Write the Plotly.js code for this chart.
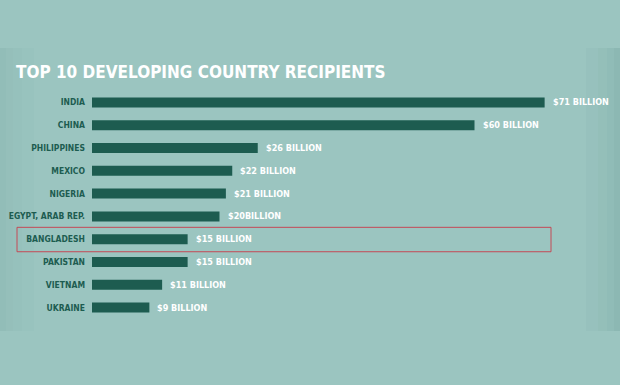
<!DOCTYPE html>
<html>
<head>
<meta charset="utf-8">
<script src="https://cdn.plot.ly/plotly-3.0.1.min.js"></script>
<style>html,body{margin:0;padding:0;background:#9bc5c0;}#chart{width:620px;height:385px;}</style>
</head>
<body>
<div id="chart"></div>
<script>
const countries = ["INDIA","CHINA","PHILIPPINES","MEXICO","NIGERIA","EGYPT, ARAB REP.","BANGLADESH","PAKISTAN","VIETNAM","UKRAINE"];
const values = [71, 60, 26, 22, 21, 20, 15, 15, 11, 9];
const valueLabels = ["$71 BILLION","$60 BILLION","$26 BILLION","$22 BILLION","$21 BILLION","$20BILLION","$15 BILLION","$15 BILLION","$11 BILLION","$9 BILLION"];
const highlighted = "BANGLADESH";

const FONT = '"DejaVu Sans Condensed","DejaVu Sans",sans-serif';
const BAR = '#1d5c50';

const trace = {
  type: 'bar', orientation: 'h',
  x: values, y: countries,
  marker: {color: BAR, line: {width: 0}},
  width: 0.44,
  hoverinfo: 'none'
};

const annotations = values.map((v, i) => ({
  x: v, y: countries[i], xref: 'x', yref: 'y',
  text: valueLabels[i],
  showarrow: false, xanchor: 'left', yanchor: 'middle', xshift: 6,
  font: {family: FONT, size: 9, color: '#ffffff', weight: 'bold', stretch: 'condensed'}
}));

// pixel helpers: plot area is x 92..602, y 91..319
const px = x => (x - 92) / 510;
const py = y => (319 - y) / 228;

const shapes = [];
const edge = [[0,6,0.07],[6,13,0.05],[13,22,0.035],[22,34,0.02]];
edge.forEach(e => {
  shapes.push({type:'rect', xref:'paper', yref:'paper', layer:'below',
    x0: px(e[0]), x1: px(e[1]), y0: py(331), y1: py(48),
    line:{width:0}, fillcolor:'rgba(30,90,80,'+e[2]+')'});
  shapes.push({type:'rect', xref:'paper', yref:'paper', layer:'below',
    x0: px(620-e[1]), x1: px(620-e[0]), y0: py(331), y1: py(48),
    line:{width:0}, fillcolor:'rgba(30,90,80,'+(e[2]*1.6)+')'});
});
const hi = countries.indexOf(highlighted);
shapes.push({type:'rect', xref:'paper', yref:'y',
  x0: px(17), x1: px(551), y0: hi - 0.52, y1: hi + 0.55,
  line:{color:'#c44a56', width:1}, fillcolor:'rgba(0,0,0,0)'});

const layout = {
  width: 620, height: 385,
  paper_bgcolor: '#9bc5c0', plot_bgcolor: 'rgba(0,0,0,0)',
  margin: {l: 92, r: 18, t: 91, b: 66},
  showlegend: false,
  title: {
    text: 'TOP 10 DEVELOPING COUNTRY RECIPIENTS',
    x: 16/620, xanchor: 'left', xref: 'container',
    y: 1 - 72/385, yanchor: 'middle', yref: 'container',
    font: {family: FONT, size: 17, color: '#ffffff', weight: 'bold', stretch: 'condensed'}
  },
  xaxis: {range: [0, 80], visible: false, fixedrange: true},
  yaxis: {
    type: 'category', categoryorder: 'array', categoryarray: countries,
    range: [9.5, -0.5], showgrid: false, zeroline: false, showline: false,
    ticks: '', ticklabelstandoff: 6,
    tickfont: {family: FONT, size: 8.5, color: BAR, weight: 'bold', stretch: 'condensed'}
  },
  annotations: annotations,
  shapes: shapes
};

Plotly.newPlot('chart', [trace], layout, {displayModeBar: false, staticPlot: true});
</script>
</body>
</html>
